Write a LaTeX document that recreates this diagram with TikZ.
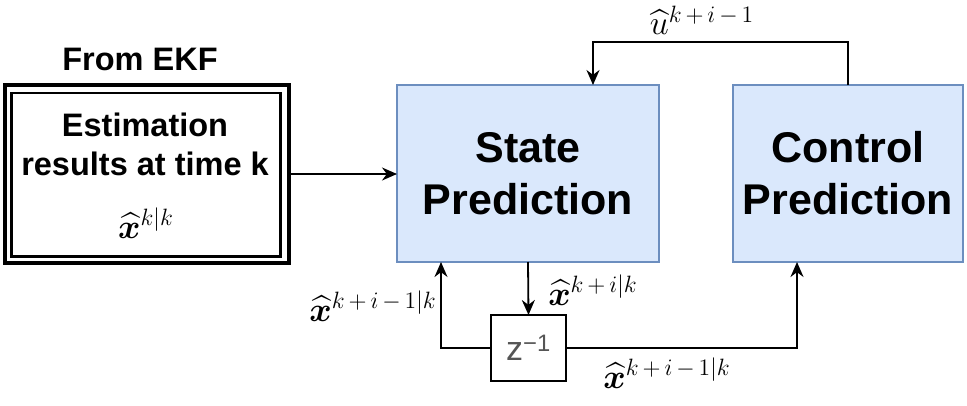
\documentclass[tikz,border=0pt]{standalone}
\usepackage{amsmath,bm,graphicx}
\usepackage{fontspec}
\setmainfont{Liberation Sans}
\usetikzlibrary{arrows.meta}
\DeclareMathSizes{17.28}{17.28}{12}{8}
\definecolor{boxfill}{HTML}{DAE8FC}
\definecolor{boxline}{HTML}{6C8EBF}
\definecolor{ztext}{HTML}{555555}
\tikzset{
  blk/.style={draw=boxline, fill=boxfill, line width=2.5pt, outer sep=0pt, align=center,
    font=\fontsize{43}{52}\selectfont\bfseries},
  conn/.style={line width=1.8pt, -{Stealth[length=15pt,width=13pt]}},
  lbl/.style={inner sep=0pt, font=\fontsize{17.28}{20}\selectfont},
  head/.style={font=\fontsize{32.5}{39}\selectfont\bfseries, align=center},
}
\newcommand{\xh}{\widehat{\bm{x}}}
\newcommand{\bp}{\mkern3mu+\mkern3mu}
\newcommand{\bmn}{\mkern3mu-\mkern3mu}
\newcommand{\mybigmath}[1]{\scalebox{1.97}{$#1$}}
\begin{document}
\begin{tikzpicture}[x=1pt,y=-1pt]
\useasboundingbox (0,0) rectangle (967,405);
% EKF box
\node[draw, line width=4pt, outer sep=0pt, minimum width=283.5pt, minimum height=178pt] (ekf) at (146.75,174) {};
\draw[line width=2.5pt] ([shift={(6.5,8)}]ekf.north west) rectangle ([shift={(-8,-6.5)}]ekf.south east);
\node[head] (ekftxt) at (145,144) {Estimation\\results at time k};
\node[lbl] (xkk) at (146,223) {\mybigmath{\xh^{k|k}}};
\node[head] (from) at (140,59) {From EKF};
% blocks
\node[blk, minimum width=262pt, minimum height=177pt] (state) at (528,173.5) {State\\Prediction};
\node[blk, minimum width=230pt, minimum height=177pt] (ctrl) at (848,173.5) {Control\\Prediction};
\node[draw, line width=1.8pt, fill=white, outer sep=0pt, minimum width=75pt, minimum height=66pt,
  text=ztext, font=\fontsize{34}{38}\selectfont] (z) at (528.5,348) {z\textsuperscript{−1}};
% connectors
\draw[conn] (ekf.east) -- (ekf.east -| state.west);
\draw[conn] (ctrl.north) -- ++(0,-43) -| ([xshift=65pt]state.north);
\draw[conn] (state.south) -- (z.north);
\draw[conn] (z.west) -| ([xshift=-87pt]state.south);
\draw[conn] (z.east) -| ([xshift=-51pt]ctrl.south);
% labels
\node[lbl] (u) at (702,20) {\mybigmath{\widehat{u}^{k\bp i\bmn 1}}};
\node[lbl] (x1) at (593,290) {\mybigmath{\xh^{k\bp i|k}}};
\node[lbl] (x2) at (373,306) {\mybigmath{\xh^{k\bp i\bmn 1|k}}};
\node[lbl] (x3) at (667,373) {\mybigmath{\xh^{k\bp i\bmn 1|k}}};
\end{tikzpicture}
\end{document}
